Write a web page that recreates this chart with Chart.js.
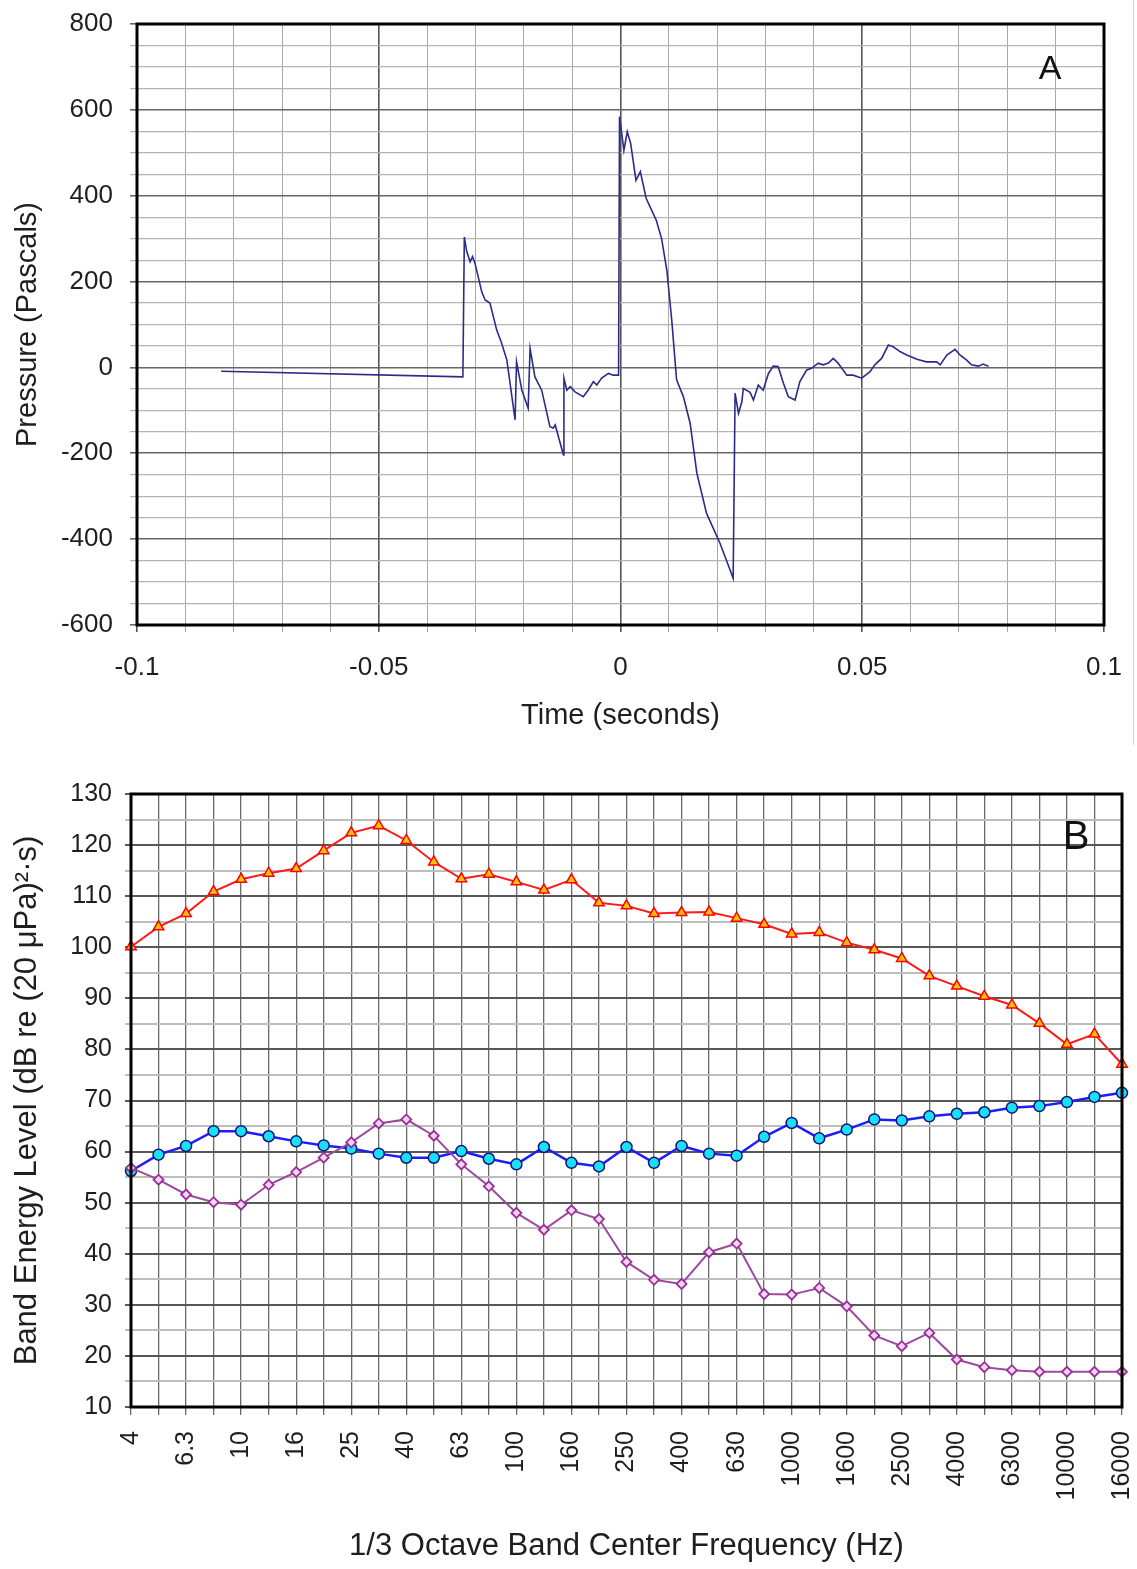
<!DOCTYPE html>
<html>
<head>
<meta charset="utf-8">
<script src="https://cdn.jsdelivr.net/npm/chart.js@4.4.1/dist/chart.umd.min.js"></script>
<style>
  body { margin: 0; background: #fff; }
  #wrapA { position: absolute; left: 0; top: 0; width: 1133px; height: 745px; border-right: 1px solid #d0d0d0; }
  #chartA { position: absolute; left: 0; top: 0; }
  #chartB { position: absolute; left: 0; top: 750px; }
</style>
</head>
<body>
<div id="wrapA"><canvas id="chartA" width="1133" height="745"></canvas></div>
<canvas id="chartB" width="1137" height="819"></canvas>
<script>
// --- Panel A: pressure trace (seconds, Pascals)
const timeS = [
  -0.0826, -0.0326, -0.0323, -0.0318, -0.0311, -0.0306, -0.0301, -0.0287, -0.0280, -0.0270,
  -0.0256, -0.0246, -0.0235, -0.0218, -0.0215, -0.0204, -0.0191, -0.0187, -0.0177, -0.0163,
  -0.0146, -0.0139, -0.0135, -0.0118, -0.0117, -0.0111, -0.0104, -0.0094, -0.0077, -0.0067,
  -0.0056, -0.0049, -0.0039, -0.0025, -0.0015, -0.0004, -0.0002, 0.0007, 0.0014, 0.0021,
  0.0032, 0.0041, 0.0053, 0.0064, 0.0074, 0.0085, 0.0096, 0.0106, 0.0116, 0.0130,
  0.0144, 0.0158, 0.0178, 0.0206, 0.0233, 0.0237, 0.0244, 0.0251, 0.0254, 0.0268,
  0.0275, 0.0285, 0.0295, 0.0306, 0.0316, 0.0326, 0.0337, 0.0347, 0.0361, 0.0371,
  0.0385, 0.0395, 0.0409, 0.0419, 0.0430, 0.0440, 0.0450, 0.0468, 0.0481, 0.0499,
  0.0516, 0.0526, 0.0540, 0.0554, 0.0564, 0.0578, 0.0592, 0.0613, 0.0633, 0.0654,
  0.0661, 0.0675, 0.0692, 0.0702, 0.0716, 0.0726, 0.0740, 0.0750, 0.0761
];
const pressurePa = [
  -9, -22, 304, 270, 246, 258, 243, 176, 157, 150,
  87, 57, 17, -122, 13, -53, -95, 44, -22, -53,
  -138, -141, -134, -204, -25, -53, -45, -57, -68, -53,
  -33, -41, -25, -14, -18, -18, 584, 506, 549, 522,
  436, 456, 394, 367, 343, 300, 225, 110, -29, -68,
  -130, -247, -340, -410, -491, -60, -107, -80, -49, -58,
  -76, -41, -53, -14, 3, 2, -37, -68, -76, -33,
  -6, -2, 10, 6, 10, 21, 10, -18, -18, -25,
  -10, 6, 21, 52, 48, 37, 29, 19, 13, 13,
  6, 29, 42, 29, 17, 6, 3, 8, 3
];

// --- Panel B: 1/3 octave band energy levels
const bandHz = ['4', '5', '6.3', '8', '10', '12.5', '16', '20', '25', '31.5', '40', '50', '63', '80',
  '100', '125', '160', '200', '250', '315', '400', '500', '630', '800', '1000', '1250', '1600',
  '2000', '2500', '3150', '4000', '5000', '6300', '8000', '10000', '12500', '16000'];
const redLevels = [100.1, 104.0, 106.6, 110.9, 113.3, 114.5, 115.4, 118.9, 122.4, 123.8,
  120.9, 116.7, 113.4, 114.3, 112.8, 111.2, 113.2, 108.7, 108.1, 106.6,
  106.8, 106.9, 105.7, 104.5, 102.6, 102.9, 100.9, 99.5, 97.8, 94.4,
  92.4, 90.4, 88.7, 85.1, 81.0, 83.0, 77.1];
const blueLevels = [56.2, 59.4, 61.1, 64.0, 64.0, 63.0, 62.0, 61.2, 60.6, 59.6,
  58.8, 58.8, 60.1, 58.6, 57.5, 60.9, 57.8, 57.1, 60.9, 57.8,
  61.1, 59.6, 59.2, 62.9, 65.6, 62.6, 64.3, 66.3, 66.1, 66.9,
  67.4, 67.7, 68.6, 68.9, 69.7, 70.7, 71.5];
const purpleLevels = [56.8, 54.5, 51.6, 50.1, 49.6, 53.5, 56.0, 58.8, 61.8, 65.5,
  66.3, 63.1, 57.5, 53.2, 48.0, 44.7, 48.5, 46.8, 38.4, 34.9,
  34.1, 40.3, 42.0, 32.1, 32.0, 33.3, 29.7, 24.0, 21.9, 24.5,
  19.3, 17.8, 17.2, 16.9, 16.9, 16.9, 16.9];

const FONT = '"Liberation Sans", Arial, Helvetica, sans-serif';
const TXT = '#1e1e1e';

const nearMultiple = (v, step) => Math.abs(Math.round(v / step) * step - v) < 1e-7;

// fixed axis sizes, no extra room for overhanging labels
const fixX = h => s => { s.height = h; s.paddingLeft = 0; s.paddingRight = 0; };
const fixY = w => s => { s.width = w; s.paddingTop = 0; s.paddingBottom = 0; };

// frame round the plot area + the panel letter
const framePlugin = {
  id: 'frame',
  afterDraw(chart, args, opts) {
    const { ctx, chartArea: a } = chart;
    ctx.save();
    ctx.strokeStyle = '#000';
    ctx.lineWidth = 3;
    ctx.strokeRect(a.left, a.top, a.right - a.left, a.bottom - a.top);
    ctx.fillStyle = '#111';
    ctx.font = opts.size + 'px ' + FONT;
    ctx.textAlign = 'center';
    ctx.textBaseline = 'middle';
    ctx.fillText(opts.letter, a.right - opts.dx, a.top + opts.dy);
    ctx.restore();
  }
};

new Chart(document.getElementById('chartA'), {
  type: 'scatter',
  data: {
    datasets: [{
      data: timeS.map((t, i) => ({ x: t, y: pressurePa[i] })),
      showLine: true,
      borderColor: '#2b2b8c',
      borderWidth: 1.6,
      pointRadius: 0,
      tension: 0
    }]
  },
  options: {
    responsive: false,
    animation: false,
    layout: { padding: { top: 24, right: 29, left: 0, bottom: 0 } },
    plugins: {
      legend: { display: false },
      tooltip: { enabled: false },
      frame: { letter: 'A', size: 34, dx: 54, dy: 46 }
    },
    scales: {
      x: {
        type: 'linear',
        min: -0.1,
        max: 0.1,
        afterFit: fixX(120),
        border: { display: false },
        grid: {
          color: c => (c.tick && nearMultiple(c.tick.value, 0.05)) ? '#555' : '#a8a8a8',
          lineWidth: c => (c.tick && nearMultiple(c.tick.value, 0.05)) ? 1.6 : 1,
          tickLength: 7
        },
        ticks: {
          stepSize: 0.01,
          autoSkip: false,
          maxRotation: 0,
          padding: 20,
          color: TXT,
          font: { family: FONT, size: 26 },
          callback: v => nearMultiple(v, 0.05) ? String(Math.round(v * 100) / 100) : ''
        },
        title: {
          display: true,
          text: 'Time (seconds)',
          color: TXT,
          font: { family: FONT, size: 29 },
          padding: { top: 0, bottom: 12 }
        }
      },
      y: {
        min: -600,
        max: 800,
        afterFit: fixY(137),
        border: { display: false },
        grid: {
          color: c => (c.tick && c.tick.value % 200 === 0) ? '#666' : '#b4b4b4',
          lineWidth: c => (c.tick && c.tick.value % 200 === 0) ? 1.6 : 1.2,
          tickLength: 7
        },
        ticks: {
          stepSize: 50,
          autoSkip: false,
          padding: 17,
          color: TXT,
          font: { family: FONT, size: 26 },
          callback: v => v % 200 === 0 ? v : ''
        },
        title: {
          display: true,
          text: 'Pressure (Pascals)',
          color: TXT,
          font: { family: FONT, size: 29 },
          padding: { top: 11, bottom: 0 }
        }
      }
    }
  },
  plugins: [framePlugin]
});

new Chart(document.getElementById('chartB'), {
  type: 'line',
  data: {
    labels: bandHz,
    datasets: [
      {
        data: purpleLevels,
        borderColor: '#9c4a9c',
        borderWidth: 2,
        pointStyle: 'rectRot',
        pointRadius: 5,
        pointBackgroundColor: '#f3d6f3',
        pointBorderColor: '#9a2f9a',
        pointBorderWidth: 1.8,
        tension: 0
      },
      {
        data: blueLevels,
        borderColor: '#1c1cff',
        borderWidth: 2.5,
        pointStyle: 'circle',
        pointRadius: 5.5,
        pointBackgroundColor: '#19e0f5',
        pointBorderColor: '#12127a',
        pointBorderWidth: 1.5,
        tension: 0
      },
      {
        data: redLevels,
        borderColor: '#ff1a1a',
        borderWidth: 2,
        pointStyle: 'triangle',
        pointRadius: 6,
        pointBackgroundColor: '#ffc400',
        pointBorderColor: '#ff0000',
        pointBorderWidth: 1.5,
        tension: 0
      }
    ]
  },
  options: {
    responsive: false,
    animation: false,
    layout: { padding: { top: 44, right: 15, left: 0, bottom: 0 } },
    plugins: {
      legend: { display: false },
      tooltip: { enabled: false },
      frame: { letter: 'B', size: 40, dx: 46, dy: 44 }
    },
    scales: {
      x: {
        type: 'category',
        offset: false,
        afterFit: fixX(162),
        border: { display: false },
        grid: { color: '#6a6a6a', lineWidth: 1.3, tickLength: 8, offset: false },
        ticks: {
          autoSkip: false,
          minRotation: 90,
          maxRotation: 90,
          padding: 16,
          color: TXT,
          font: { family: FONT, size: 25 },
          callback: (v, i) => i % 2 === 0 ? bandHz[i] : ''
        },
        title: {
          display: true,
          text: '1/3 Octave Band Center Frequency (Hz)',
          color: TXT,
          font: { family: FONT, size: 31 },
          padding: { top: 0, bottom: 4 }
        }
      },
      y: {
        min: 10,
        max: 130,
        afterFit: fixY(131),
        border: { display: false },
        grid: {
          color: c => (c.tick && c.tick.value % 10 === 0) ? '#585858' : '#bdbdbd',
          lineWidth: 2,
          tickLength: 6
        },
        ticks: {
          stepSize: 5,
          autoSkip: false,
          padding: 13,
          color: TXT,
          font: { family: FONT, size: 25 },
          callback: v => v % 10 === 0 ? v : ''
        },
        title: {
          display: true,
          text: 'Band Energy Level (dB re (20 μPa)²·s)',
          color: TXT,
          font: { family: FONT, size: 31 },
          padding: { top: 9, bottom: 0 }
        }
      }
    }
  },
  plugins: [framePlugin]
});
</script>
</body>
</html>
